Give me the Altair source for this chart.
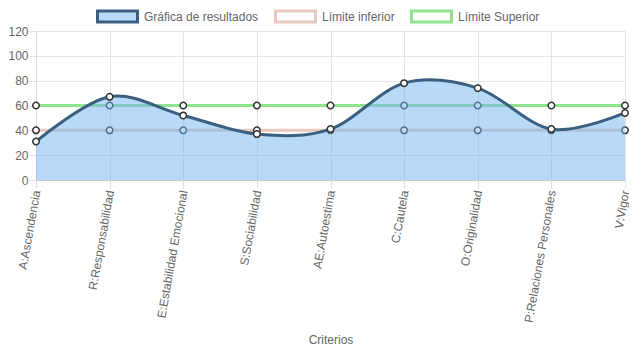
import altair as alt
import pandas as pd

categories = ["A:Ascendencia", "R:Responsabilidad", "E:Estabilidad Emocional",
              "S:Sociabilidad", "AE:Autoestima", "C:Cautela", "O:Originalidad",
              "P:Relaciones Personales", "V:Vigor"]
resultados = [31, 67, 52, 37, 41, 78, 74, 41, 54]
inferior = [40, 40, 40, 40, 40, 40, 40, 40, 40]
superior = [60, 60, 60, 60, 60, 60, 60, 60, 60]
series_names = ["Gráfica de resultados", "Límite inferior", "Límite Superior"]

rows = []
for name, vals in zip(series_names, [resultados, inferior, superior]):
    for c, v in zip(categories, vals):
        rows.append({"serie": name, "crit": c, "valor": v})
df = pd.DataFrame(rows)

FONT = "Liberation Sans"
GRAY = "#666666"
BLUE_LINE = "#3b5f80"
BLUE_FILL = "#71b3ef"
PINK = "#e8c9bd"
GREEN = "#8fe38f"

x = alt.X("crit:N", sort=categories, title="Criterios",
          scale=alt.Scale(type="point", padding=0, round=False),
          axis=alt.Axis(labelAngle=-80, labelColor=GRAY, labelFont=FONT, labelFontSize=12,
                        titleColor=GRAY, titleFont=FONT, titleFontSize=12, titleFontWeight="normal",
                        titleY=154, grid=True, gridColor="#e5e5e5", tickColor="#e0e0e0",
                        tickSize=8, domain=False, labelPadding=2, labelLimit=300))
y = alt.Y("valor:Q", title=None, scale=alt.Scale(domain=[0, 120], nice=False),
          axis=alt.Axis(values=[0, 20, 40, 60, 80, 100, 120], labelColor=GRAY, labelFont=FONT,
                        labelFontSize=12, grid=True,
                        gridColor=alt.condition(alt.datum.value == 0, alt.value("#cccccc"), alt.value("#e5e5e5")),
                        tickColor="#e0e0e0", tickSize=7, domainColor="#dddddd", labelPadding=1))

base = alt.Chart(df)

inf_line = base.transform_filter(alt.datum.serie == "Límite inferior").mark_line(
    color=PINK, strokeWidth=3, clip=False).encode(x=x, y=y)
sup_line = base.transform_filter(alt.datum.serie == "Límite Superior").mark_line(
    color=GREEN, strokeWidth=3, clip=False).encode(x=x, y=y)
lim_pts = base.transform_filter(alt.datum.serie != "Gráfica de resultados").mark_point(
    filled=True, fill="white", stroke="#333333", strokeWidth=1.5, size=42, opacity=1, clip=False
).encode(x=x, y=y)

res = base.transform_filter(alt.datum.serie == "Gráfica de resultados")
area = res.mark_area(interpolate="cardinal", tension=0, color=BLUE_FILL, opacity=0.5).encode(x=x, y=y)
line = res.mark_line(interpolate="cardinal", tension=0, color=BLUE_LINE, strokeWidth=3).encode(x=x, y=y)
pts = res.mark_point(filled=True, fill="white", stroke="#333333", strokeWidth=1.5, size=42,
                     opacity=1, clip=False).encode(x=x, y=y)

leg = dict(title=None, orient="none", direction="horizontal",
           legendX=60, legendY=-36, padding=0,
           symbolType="M-1,-0.275H1V0.275H-1Z", symbolSize=1600,
           symbolStrokeWidth=3, symbolOpacity=1, labelFont=FONT,
           labelFontSize=12, labelColor=GRAY, columnPadding=10, labelOffset=5)

legend_layer = base.transform_filter(alt.datum.valor < -1000).mark_point(filled=True).encode(
    x=x, y=y,
    fill=alt.Fill("serie:N", scale=alt.Scale(domain=series_names, range=["#b8d9f7", "white", "white"]),
                  legend=alt.Legend(**leg)),
    stroke=alt.Stroke("serie:N", scale=alt.Scale(domain=series_names, range=[BLUE_LINE, PINK, GREEN]),
                      legend=alt.Legend(**leg)),
)

chart = alt.layer(inf_line, sup_line, lim_pts, area, line, pts, legend_layer).properties(
    width=589, height=149,
    autosize=alt.AutoSizeParams(type="none"),
    padding={"left": 28, "top": 23, "right": 4, "bottom": 166},
).resolve_scale(fill="independent", stroke="independent").configure_view(stroke=None)

chart.save("out.html", embed_options={"renderer": "svg", "actions": False})
